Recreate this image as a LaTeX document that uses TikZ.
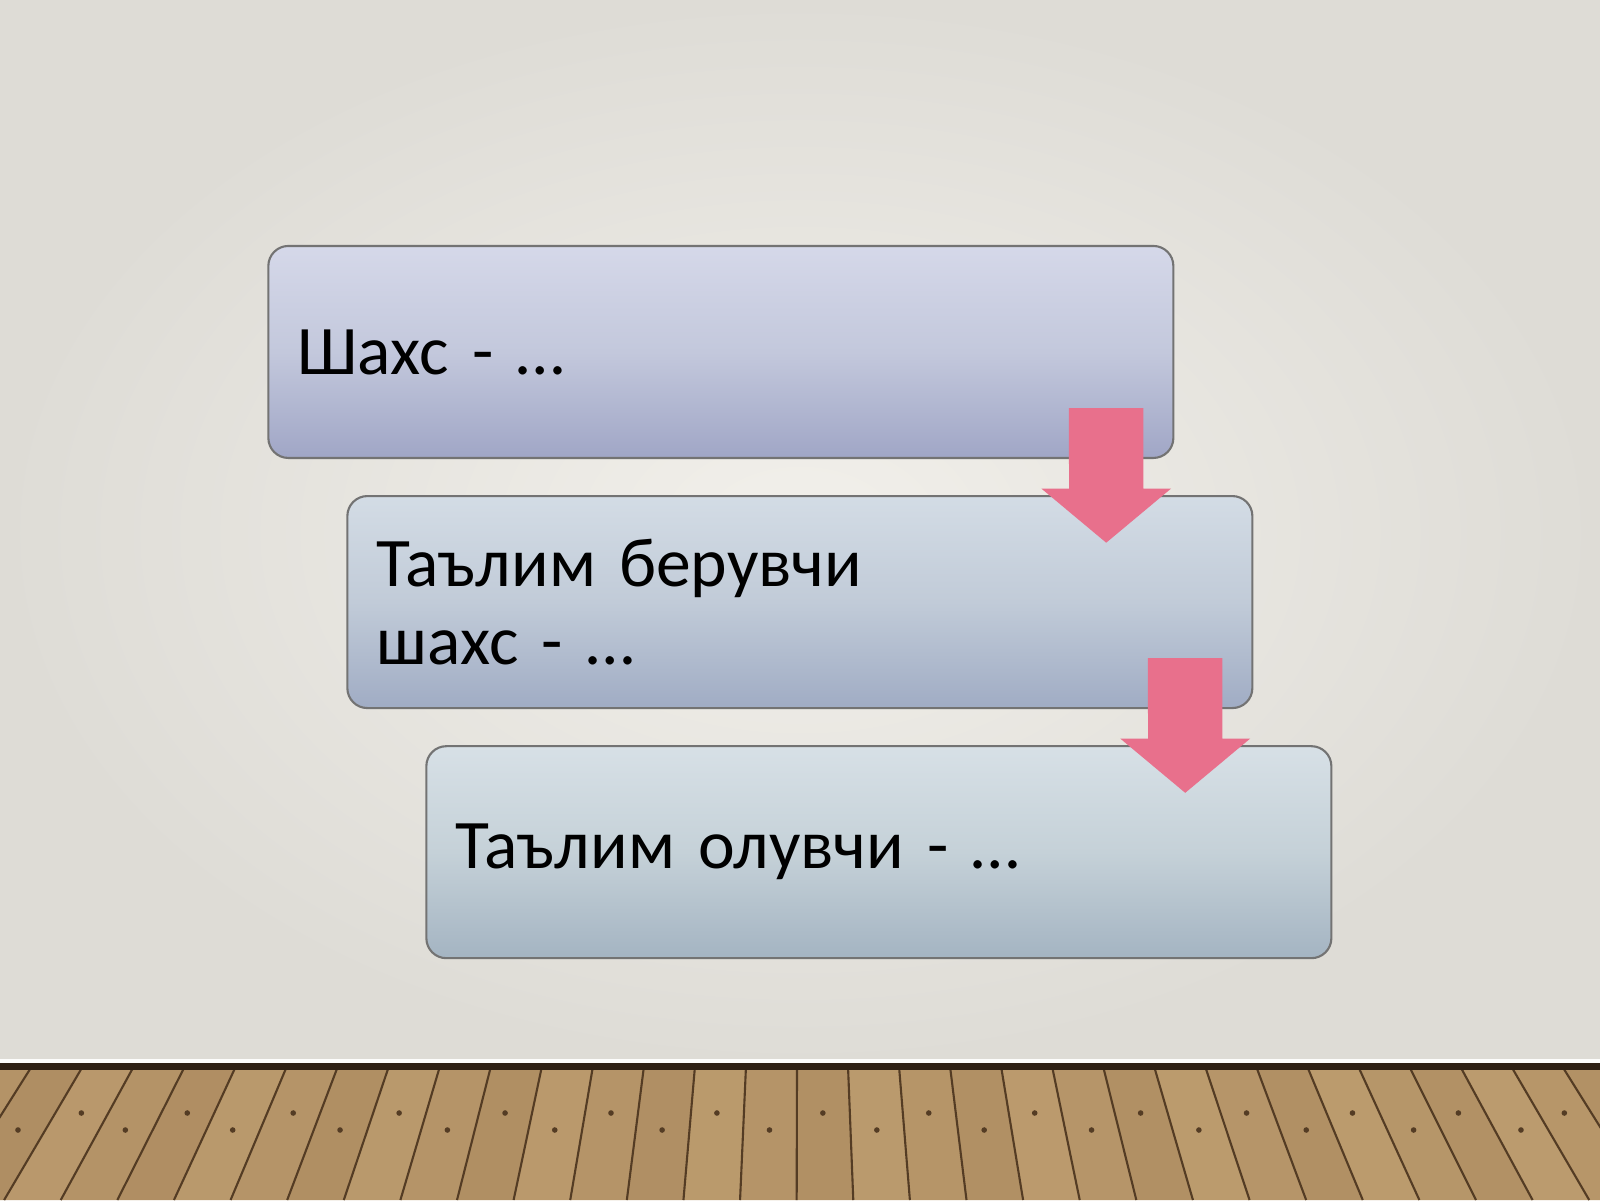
\documentclass[tikz,border=0pt]{standalone}
\usepackage{fontspec}
\setmainfont{Carlito}
\usepackage{tikz}
\usetikzlibrary{positioning}
\usetikzlibrary{calc}
\definecolor{wallin}{RGB}{242,240,235}
\definecolor{wallout}{RGB}{222,220,214}
\definecolor{woodlight}{RGB}{192,160,114}
\definecolor{wooddark}{RGB}{166,132,90}
\definecolor{woodline}{RGB}{84,60,36}
\definecolor{arrowpink}{RGB}{232,112,140}
\tikzset{
    stagebox/.style={draw=black!55, line width=0.6pt, rounded corners=0.2cm,
        text width=8.47cm, inner xsep=0.29cm, minimum height=2.12cm,
        align=left, anchor=north west, font=\fontsize{19.8}{22}\selectfont},
    boxone/.style={stagebox, top color={rgb,255:red,213;green,216;blue,233},
        bottom color={rgb,255:red,160;green,166;blue,198},
        middle color={rgb,255:red,195;green,200;blue,220}},
    boxtwo/.style={stagebox, top color={rgb,255:red,211;green,220;blue,229},
        bottom color={rgb,255:red,160;green,172;blue,196},
        middle color={rgb,255:red,193;green,203;blue,216}},
    boxthree/.style={stagebox, top color={rgb,255:red,215;green,224;blue,230},
        bottom color={rgb,255:red,164;green,180;blue,194},
        middle color={rgb,255:red,197;green,209;blue,216}},
    pinkarrow/.style={fill=arrowpink},
    plank/.style={draw=woodline, line width=0.6pt},
}
% block arrow pointing down, #1 = top centre
\newcommand{\downblock}[1]{
    \fill[pinkarrow] (#1) ++(-0.372,0) -- ++(0.745,0) -- ++(0,-0.806)
        -- ++(0.276,0) -- ++(-0.648,-0.541) -- ++(-0.648,0.541)
        -- ++(0.276,0) -- cycle;
}

\begin{document}
\begin{tikzpicture}[line width=0.6pt]
\useasboundingbox (0,0) rectangle (16,12);
	% wall
	\shade[inner color=wallin, outer color=wallout] (0,1.34) rectangle (16,12);
	% floor
	\fill[wooddark] (0,0) rectangle (16,1.34);
	\foreach \x [count=\i] in {-0.7,-0.19,...,16.6}{
		\pgfmathsetmacro{\tone}{mod(\i*37,55)+35}
		\pgfmathsetmacro{\ny}{ifthenelse(mod(\i,2)==0,0.87,0.70)}
		\fill[woodlight!\tone!wooddark] (\x,1.34) -- (\x+0.51,1.34)
			-- ({8+(\x+0.51-8)*1.11},0) -- ({8+(\x-8)*1.11},0) -- cycle;
		\draw[plank] (\x,1.34) -- ({8+(\x-8)*1.11},0);
		\fill[woodline] ({8+(\x+0.25-8)*(1+0.11*(1.34-\ny)/1.34)},\ny) circle (0.028);
	}
	\draw[white!85!wallin, line width=1.2pt] (0,1.385) -- (16,1.385);
	\draw[woodline!55!black, line width=2pt] (0,1.34) -- (16,1.34);

	% stages
	\node[boxone] (shaxs) at (2.673,9.551) {Шахс - …};
	\node[boxtwo, below right=0.36cm and 0.79cm of shaxs.south west] (beruvchi)
		{Таълим берувчи\\шахс - …};
	\node[boxthree, below right=0.36cm and 0.79cm of beruvchi.south west] (oluvchi)
		{Таълим олувчи - …};

	\downblock{$(shaxs.south east)+(-0.683,0.51)$}
	\downblock{$(beruvchi.south east)+(-0.683,0.51)$}

\end{tikzpicture}
\end{document}
